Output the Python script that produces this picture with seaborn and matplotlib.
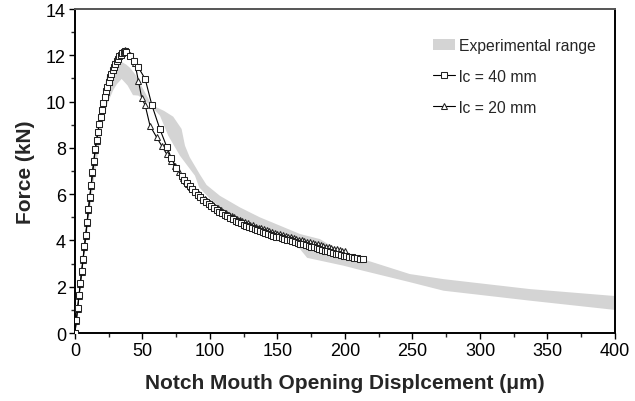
import numpy as np
import pandas as pd
import matplotlib
matplotlib.use("Agg")
import matplotlib.pyplot as plt
import seaborn as sns
from matplotlib.patches import Patch
from matplotlib.lines import Line2D
from matplotlib.ticker import MultipleLocator

# -----------------------------
# Data
# -----------------------------
# experimental band: upper edge (left -> right) and lower edge (left -> right)
exp_upper_x = [0, 5, 10, 15, 18, 21, 23.5, 27, 31, 35, 38, 41, 45, 50, 55.6, 58, 66, 72.8,
               79, 81.5, 85, 92.6, 97.5, 107.4, 122.2, 137, 151.9, 166.7, 181.5, 198.7,
               213, 248, 273, 337, 400]
exp_upper_y = [0, 2.9, 5.6, 8.0, 9.3, 10.3, 11.05, 11.5, 11.65, 11.7, 11.6, 11.45, 11.15,
               10.6, 10.0, 9.82, 9.6, 9.35, 8.82, 8.1, 7.6, 6.85, 6.4, 5.93, 5.43, 5.0,
               4.64, 4.28, 4.06, 3.45, 3.2, 2.55, 2.33, 1.9, 1.6]
exp_lower_x = [0, 5, 10, 15, 20, 24, 28.4, 31, 34.6, 39, 43, 47, 55, 63, 69.1, 77.8, 88.9,
               92, 100, 110, 125, 140, 150, 165, 172, 199, 213, 248, 273, 337, 400]
exp_lower_y = [0, 2.4, 4.8, 7.0, 8.9, 9.9, 10.5, 10.75, 10.98, 10.7, 10.28, 10.26, 9.9,
               9.39, 8.53, 7.66, 6.8, 6.3, 5.8, 5.3, 4.8, 4.4, 4.15, 3.75, 3.25, 2.91, 2.7,
               2.2, 1.83, 1.4, 1.0]

# lc = 40 mm (squares)
lc40_x = [0, 1, 2, 3, 4, 5, 6, 7, 8, 9, 10, 11, 12, 13, 14, 15, 16, 17, 18, 19, 20, 21, 22,
          23, 24, 25, 26, 27, 28, 29, 30, 31, 32, 33, 34, 35, 36, 37, 38, 41, 44, 47, 52,
          57, 63, 68, 71.5, 75, 79, 81, 83, 85, 87, 89, 91, 93, 95, 97, 99, 101, 103, 105,
          107, 109, 111, 113, 115, 117, 119, 121, 123, 125, 127, 129, 131, 133, 135, 137,
          139, 141, 143, 145, 147, 149, 151, 153, 155, 157, 159, 161, 163, 165, 167, 169,
          171, 173, 175, 177, 179, 181, 183, 185, 187, 189, 191, 193, 195, 197, 199, 201,
          203, 205, 207, 209, 211, 213]
lc40_y = [0.0, 0.55, 1.1, 1.65, 2.15, 2.7, 3.2, 3.75, 4.25, 4.8, 5.35, 5.9, 6.4, 6.95, 7.45,
          7.95, 8.35, 8.7, 9.05, 9.35, 9.65, 9.95, 10.2, 10.45, 10.65, 10.85, 11.05, 11.2,
          11.35, 11.5, 11.62, 11.75, 11.85, 11.95, 12.03, 12.1, 12.15, 12.18, 12.15, 11.95,
          11.75, 11.48, 10.98, 9.85, 8.8, 8.05, 7.55, 7.15, 6.8, 6.63, 6.48, 6.35, 6.22,
          6.09, 5.97, 5.86, 5.75, 5.65, 5.56, 5.48, 5.4, 5.32, 5.24, 5.17, 5.1, 5.04, 4.97,
          4.91, 4.85, 4.79, 4.74, 4.68, 4.63, 4.58, 4.54, 4.49, 4.44, 4.4, 4.36, 4.32, 4.28,
          4.24, 4.2, 4.16, 4.13, 4.1, 4.06, 4.03, 4.0, 3.96, 3.93, 3.9, 3.86, 3.83, 3.8,
          3.76, 3.73, 3.7, 3.66, 3.63, 3.6, 3.56, 3.53, 3.5, 3.46, 3.43, 3.4, 3.38, 3.35,
          3.32, 3.3, 3.28, 3.26, 3.24, 3.22, 3.2]

# lc = 20 mm (triangles)
lc20_x = [0, 1, 2, 3, 4, 5, 6, 7, 8, 9, 10, 11, 12, 13, 14, 15, 16, 17, 18, 19, 20, 21, 22,
          23, 24, 25, 26, 27, 28, 29, 30, 31, 32, 33, 34, 35, 36, 37, 38, 41, 44.4, 47,
          49.5, 52, 55.6, 60.5, 64.2, 67.9, 71, 74, 77, 80, 82, 84, 86, 88, 90, 92, 94, 96,
          98, 100, 102, 104, 106, 108, 110, 112, 114, 116, 118, 120, 122, 124, 126, 128,
          130, 132, 134, 136, 138, 140, 142, 144, 146, 148, 150, 152, 154, 156, 158, 160,
          162, 164, 166, 168, 170, 172, 174, 176, 178, 180, 182, 184, 186, 188, 190, 192,
          194, 196, 198, 200]
lc20_y = [0.0, 0.5, 1.05, 1.6, 2.1, 2.65, 3.15, 3.7, 4.2, 4.75, 5.3, 5.85, 6.35, 6.9, 7.4,
          7.9, 8.3, 8.68, 9.02, 9.33, 9.63, 9.93, 10.18, 10.43, 10.65, 10.86, 11.06, 11.22,
          11.38, 11.52, 11.66, 11.78, 11.9, 12.0, 12.08, 12.15, 12.2, 12.24, 12.2, 12.0,
          11.65, 10.9, 10.15, 9.85, 8.96, 8.46, 8.1, 7.74, 7.45, 7.2, 6.95, 6.72, 6.58,
          6.45, 6.33, 6.21, 6.1, 5.99, 5.89, 5.79, 5.7, 5.62, 5.54, 5.46, 5.39, 5.32, 5.25,
          5.18, 5.12, 5.06, 5.0, 4.94, 4.89, 4.84, 4.79, 4.74, 4.69, 4.65, 4.6, 4.56, 4.52,
          4.48, 4.44, 4.4, 4.36, 4.33, 4.3, 4.26, 4.23, 4.2, 4.17, 4.13, 4.1, 4.07, 4.04,
          4.01, 3.98, 3.95, 3.92, 3.89, 3.86, 3.83, 3.8, 3.77, 3.74, 3.71, 3.68, 3.65, 3.62,
          3.59, 3.56, 3.53]

# -----------------------------
# Plot
# -----------------------------
sns.set_style("ticks")
plt.rcParams['font.family'] = ['Liberation Sans', 'DejaVu Sans']

fig = plt.figure(figsize=(6.35, 4.02), dpi=100)
ax = fig.add_axes([0.118, 0.169, 0.8505, 0.806])

band_color = '#d4d4d4'
ax.fill(exp_upper_x + exp_lower_x[::-1], exp_upper_y + exp_lower_y[::-1],
        color=band_color, lw=0, zorder=1)

df40 = pd.DataFrame({'x': lc40_x, 'y': lc40_y})
df20 = pd.DataFrame({'x': lc20_x, 'y': lc20_y})
sns.lineplot(data=df20, x='x', y='y', ax=ax, sort=False, estimator=None, color='black',
             lw=0.8, marker='^', markersize=4.5, markerfacecolor='white',
             markeredgecolor='#222222', markeredgewidth=0.75, zorder=3)
sns.lineplot(data=df40, x='x', y='y', ax=ax, sort=False, estimator=None, color='black',
             lw=0.8, marker='s', markersize=4, markerfacecolor='white',
             markeredgecolor='#222222', markeredgewidth=0.75, zorder=4)

ax.set_xlim(0, 400)
ax.set_ylim(0, 14)
ax.xaxis.set_major_locator(MultipleLocator(50))
ax.xaxis.set_minor_locator(MultipleLocator(25))
ax.yaxis.set_major_locator(MultipleLocator(2))
ax.yaxis.set_minor_locator(MultipleLocator(1))
ax.tick_params(which='major', length=4, width=1, labelsize=13, colors='black', pad=2.5)
ax.tick_params(which='minor', length=3, width=1)
for s in ax.spines.values():
    s.set_visible(True)
    s.set_linewidth(1.4)
    s.set_color('black')
ax.spines['top'].set_color('#555555')

ax.set_xlabel("Notch Mouth Opening Displcement (μm)", fontsize=15, fontweight='bold', labelpad=10)
ax.set_ylabel("Force (kN)", fontsize=15, fontweight='bold', labelpad=8)

handles = [
    Patch(facecolor=band_color, edgecolor='none'),
    Line2D([0], [0], color='black', lw=0.8, marker='s', ms=4, mfc='white', mec='#222222', mew=0.75),
    Line2D([0], [0], color='black', lw=0.8, marker='^', ms=4.5, mfc='white', mec='#222222', mew=0.75),
]
labels = ["Experimental range", "lc = 40 mm", "lc = 20 mm"]
ax.legend(handles, labels, loc='upper left', bbox_to_anchor=(0.659, 0.9375),
          bbox_transform=fig.transFigure, frameon=False, fontsize=11.3,
          handlelength=1.4, handletextpad=0.3, labelspacing=1.0)

fig.savefig("out.png", dpi=100)
